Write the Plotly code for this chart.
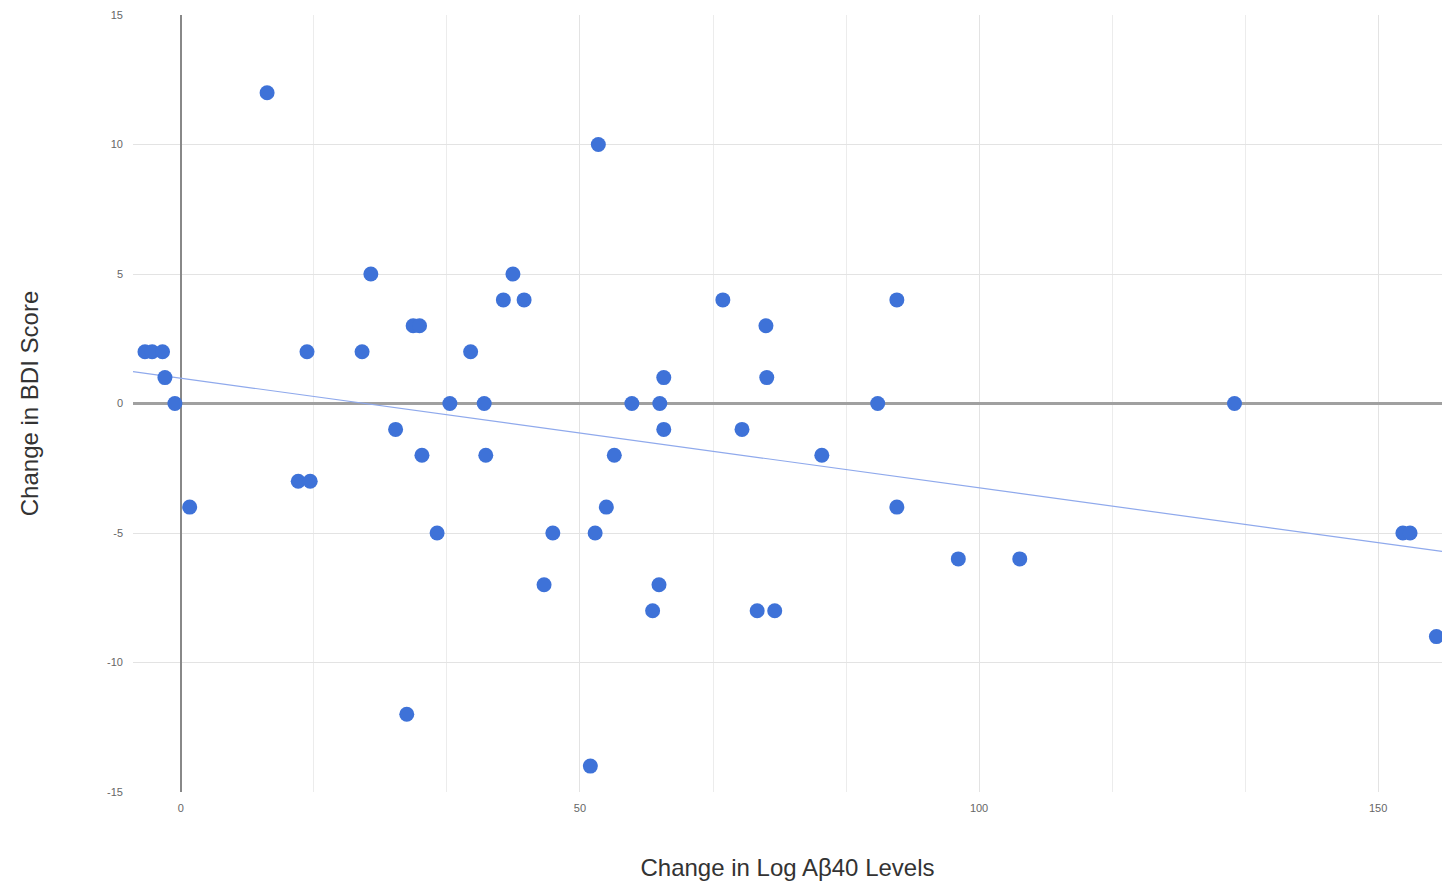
import numpy as np
import plotly.graph_objects as go

# Change in Log Aβ40 Levels (x) and Change in BDI Score (y)
x_vals = [10.8, 52.3, -4.5, -3.6, -2.3, -2.0, -0.75, 1.1, 23.8, 22.7, 15.8, 14.7, 16.2,
          26.9, 29.1, 29.9, 30.2, 32.1, 33.7, 36.3, 38.0, 38.2, 40.4, 41.6, 43.0, 28.3,
          45.5, 46.6, 51.3, 51.9, 53.3, 54.3, 56.5, 59.1, 59.9, 60.0, 60.5, 60.5, 67.9,
          70.3, 72.2, 73.3, 73.4, 74.4, 80.3, 87.3, 89.7, 89.7, 97.4, 105.1, 132.0,
          153.1, 154.0, 157.3]
y_vals = [12, 10, 2, 2, 2, 1, 0, -4, 5, 2, 2, -3, -3,
          -1, 3, 3, -2, -5, 0, 2, 0, -2, 4, 5, 4, -12,
          -7, -5, -14, -5, -4, -2, 0, -8, -7, 0, 1, -1, 4,
          -1, -8, 3, 1, -8, -2, 0, 4, -4, -6, -6, 0,
          -5, -5, -9]

x_ticks = [0, 50, 100, 150]
y_ticks = [-15, -10, -5, 0, 5, 10, 15]
x_range = [-6, 158]
y_range = [-15, 15]

# linear trendline (least squares)
slope, intercept = np.polyfit(x_vals, y_vals, 1)
tx = np.array(x_range, dtype=float)
ty = slope * tx + intercept

fig = go.Figure()
fig.add_trace(go.Scatter(x=tx, y=ty, mode="lines",
                         line=dict(color="#8fa9ec", width=1.2),
                         showlegend=False, hoverinfo="skip"))
fig.add_trace(go.Scatter(x=x_vals, y=y_vals, mode="markers",
                         marker=dict(color="#3e72d8", size=15, line=dict(width=0)),
                         showlegend=False, cliponaxis=False))

fig.update_layout(
    width=1434, height=873,
    paper_bgcolor="white", plot_bgcolor="white",
    margin=dict(l=125, r=0, t=7, b=89),
    font=dict(family="Arial, Liberation Sans, sans-serif", color="#444"),
    xaxis=dict(
        range=x_range, tickvals=x_ticks, ticktext=[str(v) for v in x_ticks],
        showgrid=True, gridcolor="#e3e3e3", gridwidth=1,
        minor=dict(dtick=50 / 3, tick0=0, showgrid=True, gridcolor="#ececec", gridwidth=1),
        zeroline=True, zerolinecolor="#888888", zerolinewidth=2,
        showline=False, ticks="", tickfont=dict(size=11, color="#666"),
        ticklabelstandoff=8, automargin=False,
        title=dict(text="Change in Log Aβ40 Levels", font=dict(size=24, color="#333"),
                   standoff=53),
    ),
    yaxis=dict(
        range=y_range, tickvals=y_ticks, ticktext=[str(v) for v in y_ticks],
        showgrid=True, gridcolor="#e3e3e3", gridwidth=1,
        zeroline=True, zerolinecolor="#a0a0a0", zerolinewidth=3,
        showline=False, ticks="", tickfont=dict(size=11, color="#666"),
        ticklabelstandoff=9, automargin=False,
        title=dict(text="Change in BDI Score", font=dict(size=24, color="#333"),
                   standoff=61),
    ),
)

fig.write_html("out.html")
